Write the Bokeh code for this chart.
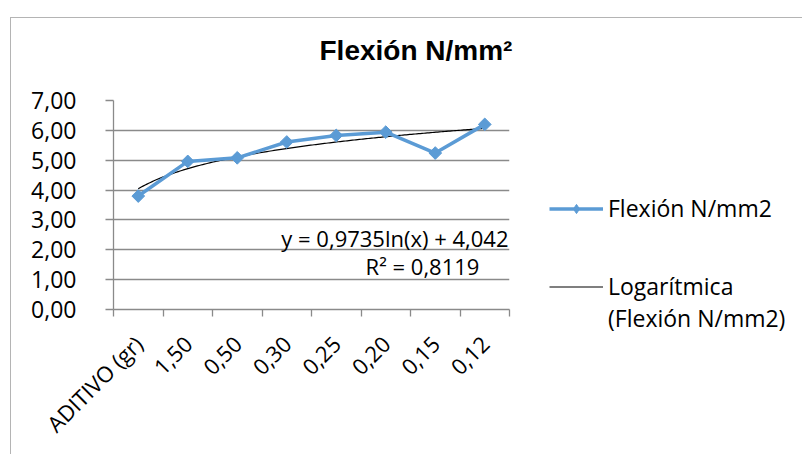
import math
import numpy as np
from bokeh.plotting import figure
from bokeh.layouts import row
from bokeh.models import (ColumnDataSource, FixedTicker, CustomJSTickFormatter, Label,
                          Legend, LegendItem, Range1d)
from bokeh.embed import file_html
from bokeh.resources import INLINE

# ---- data ----
categories = ["ADITIVO (gr)", "1,50", "0,50", "0,30", "0,25", "0,20", "0,15", "0,12"]
flexion = [3.80, 4.96, 5.08, 5.61, 5.83, 5.94, 5.24, 6.20]
trend_a = 0.9735
trend_b = 4.042
y_ticks = [0, 1, 2, 3, 4, 5, 6, 7]

title_text = "Flexión N/mm²"
series_name = "Flexión N/mm2"
trend_name_1 = "Logarítmica"
trend_name_2 = "(Flexión N/mm2)"
eq_text = "y = 0,9735ln(x) + 4,042"
r2_text = "R² = 0,8119"

FONT = "Open Sans"
BLUE = "#5B9BD5"
GRID = "#8A8A8A"

n = len(categories)
xs = [i + 0.5 for i in range(n)]
src = ColumnDataSource(dict(x=xs, y=flexion))

t = np.linspace(1, n, 200)
trend_src = ColumnDataSource(dict(x=t - 0.5, y=trend_a * np.log(t) + trend_b))

# page geometry (pixels)
OX, OY = 10, 17            # top-left corner of the chart box
FL, FR, FT, FB = 112, 508, 99, 308   # plot frame
SPLIT = 540                # where the legend column starts
H = 454 - OY

p = figure(width=SPLIT - OX, height=H, output_backend="svg", toolbar_location=None,
           x_range=Range1d(0, n), y_range=Range1d(0, 7),
           min_border_left=FL - OX, min_border_right=SPLIT - FR,
           min_border_top=FT - OY, min_border_bottom=454 - FB)
p.outline_line_color = None
p.background_fill_color = "white"
p.border_fill_color = "white"

def px_x(px):
    return (px - FL) / (FR - FL) * n

def px_y(py):
    return (FB - py) / (FB - FT) * 7

# title (a blank second line lifts it above the frame)
p.title.text = title_text + "\n "
p.title.align = "left"
p.title.offset = 318 - FL
p.title.text_font = "Liberation Sans"
p.title.text_font_style = "bold"
p.title.text_font_size = "28px"
p.title.text_color = "black"
p.title.standoff = 8

# axes
xa = p.xaxis[0]
xa.ticker = FixedTicker(ticks=xs, minor_ticks=list(range(n + 1)))
xa.formatter = CustomJSTickFormatter(args=dict(cats=categories),
                                     code="return cats[Math.floor(tick)];")
xa.major_tick_in = 0
xa.major_tick_out = 0
xa.minor_tick_in = 0
xa.minor_tick_out = 7
xa.minor_tick_line_color = GRID
xa.minor_tick_line_width = 1.3
xa.axis_line_color = GRID
xa.axis_line_width = 1.3
xa.major_label_orientation = math.pi / 4
xa.major_label_text_font = FONT
xa.major_label_text_font_size = "22px"
xa.major_label_text_color = "black"
xa.major_label_standoff = 23

ya = p.yaxis[0]
ya.ticker = FixedTicker(ticks=y_ticks, minor_ticks=[])
ya.formatter = CustomJSTickFormatter(code="return tick.toFixed(2).replace('.', ',');")
ya.major_tick_in = 0
ya.major_tick_out = 8
ya.major_tick_line_color = GRID
ya.major_tick_line_width = 1.3
ya.axis_line_color = GRID
ya.axis_line_width = 1.3
ya.major_label_text_font = FONT
ya.major_label_text_font_size = "23px"
ya.major_label_text_color = "black"
ya.major_label_standoff = 29

p.xgrid.grid_line_color = None
p.ygrid.ticker = FixedTicker(ticks=y_ticks)
p.ygrid.grid_line_color = GRID
p.ygrid.grid_line_width = 1.3

# series
p.line("x", "y", source=trend_src, line_color="black", line_width=1.2)
p.line("x", "y", source=src, line_color=BLUE, line_width=3.5)
p.scatter("x", "y", source=src, marker="square", angle=math.pi / 4,
          size=9, fill_color=BLUE, line_color=BLUE)

# equation labels (inside the frame)
eq1 = Label(x=px_x(507), y=px_y(236), text=eq_text,
            text_align="right", text_baseline="middle", text_font=FONT,
            text_font_size="22px", text_color="black")
eq2 = Label(x=px_x(421), y=px_y(264), text=r2_text,
            text_align="center", text_baseline="middle", text_font=FONT,
            text_font_size="22px", text_color="black")
p.add_layout(eq1)
p.add_layout(eq2)

# legend column: a figure that only carries the legend, in its left side panel;
# its renderers use the same data but its ranges keep them out of view
LW = 802 - SPLIT
q = figure(width=LW, height=H, output_backend="svg", toolbar_location=None,
           x_range=Range1d(100, 101), y_range=Range1d(100, 101),
           x_axis_location=None, y_axis_location=None,
           min_border_left=0, min_border_right=0,
           min_border_top=FT - OY, min_border_bottom=454 - FB)
q.outline_line_color = None
q.grid.visible = False
q.background_fill_color = "white"
q.border_fill_color = "white"
q_line = q.line("x", "y", source=src, line_color=BLUE, line_width=3.5)
q_mark = q.scatter("x", "y", source=src, marker="diamond",
                   size=12, fill_color=BLUE, line_color=BLUE)
q_trend = q.line("x", "y", source=trend_src, line_color="black", line_width=1.2)
q_blank = q.line("x", "y", source=trend_src, line_alpha=0)

legend = Legend(items=[LegendItem(label=series_name, renderers=[q_line, q_mark]),
                       LegendItem(label=" ", renderers=[q_blank]),
                       LegendItem(label=" ", renderers=[q_blank]),
                       LegendItem(label=trend_name_1, renderers=[q_trend]),
                       LegendItem(label=trend_name_2, renderers=[q_blank])],
                location=(548 - SPLIT, -25), glyph_width=54, glyph_height=23,
                label_height=23, label_standoff=5, padding=0, margin=0, spacing=0,
                border_line_alpha=0, background_fill_alpha=0, label_text_font=FONT,
                label_text_font_size="23px", label_text_color="black")
q.add_layout(legend, "left")

layout = row(p, q, spacing=0, margin=(OY, 0, 0, OX),
             styles={"border-left": "1px solid #B4B4B4",
                     "border-top": "1px solid #B4B4B4"})

open("out.html", "w").write(file_html(layout, INLINE))
